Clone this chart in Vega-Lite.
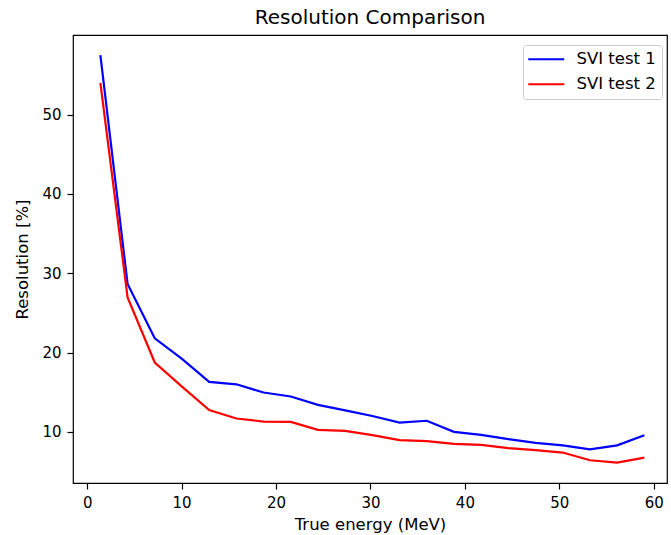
{
  "$schema": "https://vega.github.io/schema/vega-lite/v6.json",
  "width": 594,
  "height": 448,
  "autosize": {"type": "none"},
  "padding": {"left": 73, "top": 35, "right": 4, "bottom": 52},
  "title": {"text": "Resolution Comparison", "font": "DejaVu Sans", "fontSize": 20, "fontWeight": "normal", "color": "black", "offset": 7},
  "config": {
    "view": {"stroke": "black", "strokeWidth": 1.2},
    "font": "DejaVu Sans",
    "axis": {"domain": false, "grid": false, "tickColor": "black", "tickSize": 6, "tickWidth": 1.2, "labelColor": "black", "labelFontSize": 15, "labelFont": "DejaVu Sans", "titleFont": "DejaVu Sans", "titleFontSize": 16.5, "titleFontWeight": "normal", "titleColor": "black", "labelPadding": 6}
  },
  "data": {"values": [
    {"e": 1.4, "r": 57.5, "s": "SVI test 1"},
    {"e": 4.28, "r": 28.65, "s": "SVI test 1"},
    {"e": 7.16, "r": 21.8, "s": "SVI test 1"},
    {"e": 10.04, "r": 19.2, "s": "SVI test 1"},
    {"e": 12.92, "r": 16.3, "s": "SVI test 1"},
    {"e": 15.8, "r": 16.0, "s": "SVI test 1"},
    {"e": 18.68, "r": 14.96, "s": "SVI test 1"},
    {"e": 21.56, "r": 14.46, "s": "SVI test 1"},
    {"e": 24.44, "r": 13.4, "s": "SVI test 1"},
    {"e": 27.32, "r": 12.7, "s": "SVI test 1"},
    {"e": 30.2, "r": 12.0, "s": "SVI test 1"},
    {"e": 33.08, "r": 11.17, "s": "SVI test 1"},
    {"e": 35.96, "r": 11.4, "s": "SVI test 1"},
    {"e": 38.84, "r": 10.0, "s": "SVI test 1"},
    {"e": 41.72, "r": 9.62, "s": "SVI test 1"},
    {"e": 44.6, "r": 9.08, "s": "SVI test 1"},
    {"e": 47.48, "r": 8.6, "s": "SVI test 1"},
    {"e": 50.36, "r": 8.3, "s": "SVI test 1"},
    {"e": 53.24, "r": 7.8, "s": "SVI test 1"},
    {"e": 56.12, "r": 8.3, "s": "SVI test 1"},
    {"e": 59.0, "r": 9.58, "s": "SVI test 1"},
    {"e": 1.4, "r": 54.0, "s": "SVI test 2"},
    {"e": 4.28, "r": 26.96, "s": "SVI test 2"},
    {"e": 7.16, "r": 18.75, "s": "SVI test 2"},
    {"e": 10.04, "r": 15.7, "s": "SVI test 2"},
    {"e": 12.92, "r": 12.74, "s": "SVI test 2"},
    {"e": 15.8, "r": 11.68, "s": "SVI test 2"},
    {"e": 18.68, "r": 11.3, "s": "SVI test 2"},
    {"e": 21.56, "r": 11.26, "s": "SVI test 2"},
    {"e": 24.44, "r": 10.25, "s": "SVI test 2"},
    {"e": 27.32, "r": 10.13, "s": "SVI test 2"},
    {"e": 30.2, "r": 9.58, "s": "SVI test 2"},
    {"e": 33.08, "r": 8.95, "s": "SVI test 2"},
    {"e": 35.96, "r": 8.82, "s": "SVI test 2"},
    {"e": 38.84, "r": 8.48, "s": "SVI test 2"},
    {"e": 41.72, "r": 8.36, "s": "SVI test 2"},
    {"e": 44.6, "r": 7.94, "s": "SVI test 2"},
    {"e": 47.48, "r": 7.69, "s": "SVI test 2"},
    {"e": 50.36, "r": 7.39, "s": "SVI test 2"},
    {"e": 53.24, "r": 6.42, "s": "SVI test 2"},
    {"e": 56.12, "r": 6.12, "s": "SVI test 2"},
    {"e": 59.0, "r": 6.76, "s": "SVI test 2"}
  ]},
  "mark": {"type": "line", "strokeWidth": 2.2},
  "encoding": {
    "x": {"field": "e", "type": "quantitative", "title": "True energy (MeV)",
      "scale": {"domain": [-1.5, 61.4], "nice": false, "zero": false},
      "axis": {"values": [0, 10, 20, 30, 40, 50, 60], "titlePadding": 6}},
    "y": {"field": "r", "type": "quantitative", "title": "Resolution [%]",
      "scale": {"domain": [3.55, 60.05], "nice": false, "zero": false},
      "axis": {"values": [10, 20, 30, 40, 50], "titlePadding": 11}},
    "color": {"field": "s", "type": "nominal",
      "scale": {"domain": ["SVI test 1", "SVI test 2"], "range": ["#0000ff", "#ff0000"]},
      "legend": {"title": null, "orient": "none", "legendX": 450, "legendY": 10,
        "symbolType": "M-3,0H3", "symbolSize": 144, "symbolStrokeWidth": 2.2, "symbolOffset": 9,
        "labelFontSize": 16.5, "labelFont": "DejaVu Sans", "labelColor": "black",
        "strokeColor": "#cccccc", "fillColor": "white", "cornerRadius": 3, "padding": 6,
        "labelOffset": 22, "rowPadding": 8}}
  }
}
